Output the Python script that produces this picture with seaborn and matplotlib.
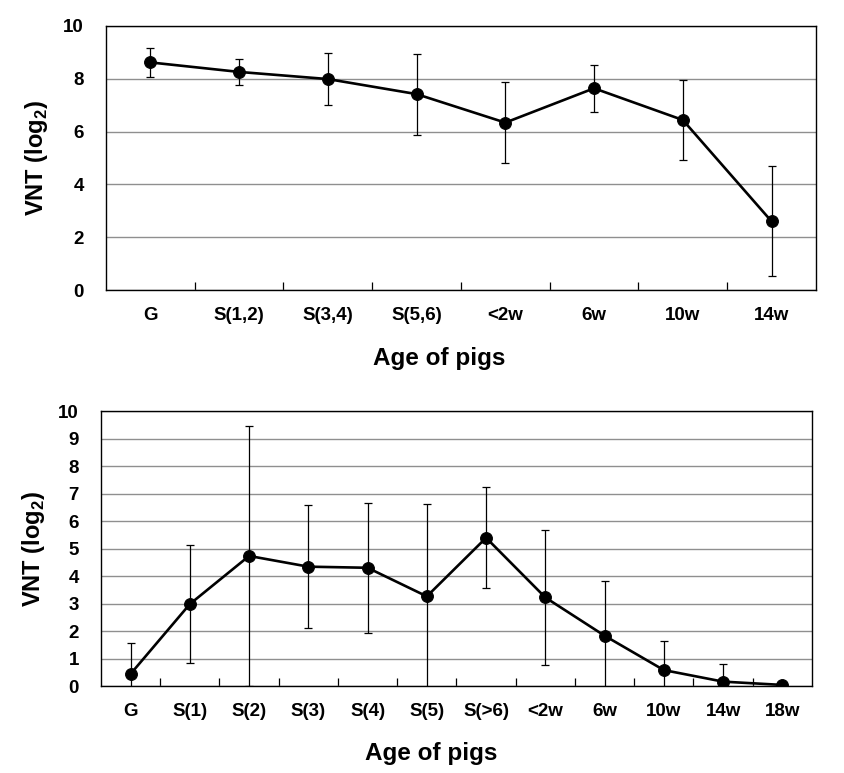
import numpy as np
import pandas as pd
import matplotlib
matplotlib.use("Agg")
import matplotlib.pyplot as plt
import seaborn as sns

# Panel 1 data
top_ages = ["G", "S(1,2)", "S(3,4)", "S(5,6)", "<2w", "6w", "10w", "14w"]
top_mean = [8.62, 8.26, 7.99, 7.42, 6.34, 7.64, 6.44, 2.60]
top_sd = [0.54, 0.50, 1.00, 1.53, 1.54, 0.90, 1.52, 2.08]

# Panel 2 data
bot_ages = ["G", "S(1)", "S(2)", "S(3)", "S(4)", "S(5)", "S(>6)", "<2w", "6w", "10w", "14w", "18w"]
bot_mean = [0.44, 2.98, 4.73, 4.34, 4.30, 3.26, 5.39, 3.22, 1.83, 0.58, 0.16, 0.04]
bot_sd = [1.14, 2.15, 4.72, 2.23, 2.36, 3.36, 1.83, 2.46, 2.00, 1.05, 0.65, 0.0]

sns.set_theme(style="white")
plt.rcParams["font.family"] = ["Liberation Sans", "DejaVu Sans"]
plt.rcParams["mathtext.fontset"] = "custom"
plt.rcParams["mathtext.rm"] = "Liberation Sans"
plt.rcParams["mathtext.bf"] = "Liberation Sans:bold"
for key in ["text.color", "axes.labelcolor", "xtick.color", "ytick.color"]:
    plt.rcParams[key] = "black"

TICK_FS = 13.5
YLABEL_FS = 17
XLABEL_FS = 17.5


def draw_panel(ax, ages, mean, sd, ymax, ystep, ylab_x, xlab_pos):
    n = len(ages)
    df = pd.DataFrame({"pos": np.arange(n), "mean": mean, "sd": sd})
    ax.errorbar(df["pos"], df["mean"], yerr=df["sd"], fmt="none",
                ecolor="black", elinewidth=0.9, capsize=3, capthick=0.9, zorder=2)
    sns.lineplot(data=df, x="pos", y="mean", color="black", linewidth=1.9,
                 marker="o", markersize=8.5, markeredgecolor="black",
                 ax=ax, zorder=3)
    ax.set_xlim(-0.5, n - 0.5)
    ax.set_ylim(0, ymax)
    ax.set_yticks(np.arange(0, ymax + 0.01, ystep))
    ax.set_xticks(np.arange(n))
    ax.set_xticklabels(ages)
    ax.set_xticks(np.arange(0.5, n - 1), minor=True)
    ax.yaxis.grid(True, color="#8f8f8f", linewidth=1.0)
    ax.xaxis.grid(False)
    ax.set_axisbelow(True)
    for s in ax.spines.values():
        s.set_color("black")
        s.set_linewidth(1.0)
    ax.tick_params(axis="x", which="major", length=0, pad=12, labelsize=TICK_FS)
    ax.tick_params(axis="x", which="minor", direction="in", length=6,
                   width=0.9, color="black", bottom=True)
    ax.tick_params(axis="y", length=0, pad=16, labelsize=TICK_FS)
    for lab in ax.get_xticklabels() + ax.get_yticklabels():
        lab.set_fontweight("bold")
    ax.set_ylabel(r"VNT (log$_{\mathbf{2}}$)", fontsize=YLABEL_FS, fontweight="bold")
    ax.set_xlabel("Age of pigs", fontsize=XLABEL_FS, fontweight="bold")
    ax.yaxis.set_label_coords(ylab_x, 0.5)
    ax.xaxis.set_label_coords(*xlab_pos)


fig = plt.figure(figsize=(8.45, 7.73), dpi=100)
ax1 = fig.add_axes([0.1254, 0.6248, 0.8402, 0.3416])
ax2 = fig.add_axes([0.1195, 0.1125, 0.8414, 0.3558])

draw_panel(ax1, top_ages, top_mean, top_sd, 10, 2, -0.079, (0.470, -0.215))
draw_panel(ax2, bot_ages, bot_mean, bot_sd, 10, 1, -0.076, (0.464, -0.205))

fig.savefig("out.png", dpi=100, facecolor="white")
